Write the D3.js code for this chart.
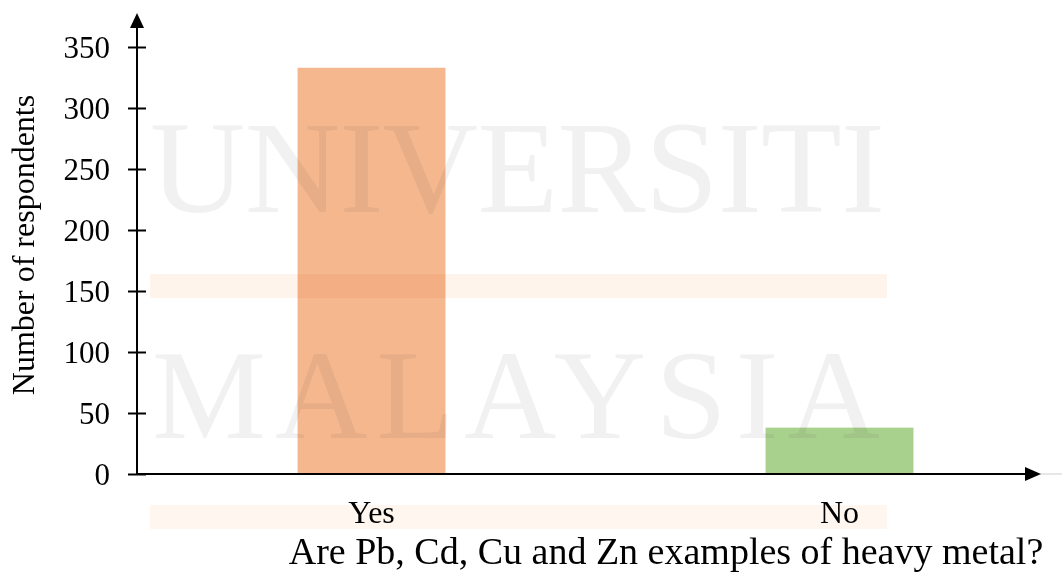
<!DOCTYPE html>
<html>
<head>
<meta charset="utf-8">
<script src="https://cdn.jsdelivr.net/npm/d3@7"></script>
<style>
  html, body { margin: 0; padding: 0; background: #fff; }
  svg { display: block; font-family: "Liberation Serif", "Times New Roman", serif; }
</style>
</head>
<body>
<svg id="chart" width="1062" height="573"></svg>
<script>
// Survey answers
const categories = ["Yes", "No"];
const respondents = [333, 38];
const barColors = ["#f4b78e", "#a9d18e"];
const yTicks = [0, 50, 100, 150, 200, 250, 300, 350];
const yTitle = "Number of respondents";
const xTitle = "Are Pb, Cd, Cu and Zn examples of heavy metal?";

const svg = d3.select("#chart");

const x = d3.scaleBand()
  .domain(categories)
  .range([137.5, 1073.5])
  .paddingInner(0.684)
  .paddingOuter(0.342);

const y = d3.scaleLinear()
  .domain([0, 350])
  .range([474, 47]);

const x0 = 137;

// Bars
svg.append("g")
  .selectAll("rect")
  .data(categories)
  .join("rect")
  .attr("x", d => x(d))
  .attr("width", x.bandwidth())
  .attr("y", (d, i) => y(respondents[i]))
  .attr("height", (d, i) => y(0) - y(respondents[i]))
  .attr("fill", (d, i) => barColors[i]);

// Faint background lettering and bands, multiplied over the bars
const wm = svg.append("g").style("mix-blend-mode", "multiply");
wm.append("rect").attr("x", 150).attr("y", 274).attr("width", 737).attr("height", 24)
  .attr("fill", "#fef4eb");
wm.append("rect").attr("x", 150).attr("y", 505).attr("width", 737).attr("height", 24)
  .attr("fill", "#fef6ef");
wm.append("text")
  .attr("x", 150).attr("y", 212)
  .attr("textLength", 735).attr("lengthAdjust", "spacing")
  .attr("font-size", 132)
  .attr("fill", "#f1f1f1")
  .text("UNIVERSITI");
wm.append("text")
  .attr("x", 152).attr("y", 438)
  .attr("textLength", 728).attr("lengthAdjust", "spacing")
  .attr("font-size", 128)
  .attr("fill", "#f1f1f1")
  .text("MALAYSIA");

// Y axis with ticks crossing the axis line
const yAxis = svg.append("g")
  .attr("transform", `translate(${x0},0)`)
  .call(d3.axisLeft(y).tickValues(yTicks).tickSize(9).tickPadding(18));
yAxis.select(".domain").remove();
yAxis.selectAll(".tick line")
  .attr("x1", -9).attr("x2", 9)
  .attr("stroke", "#000").attr("stroke-width", 2);
yAxis.selectAll(".tick text")
  .attr("font-family", "Liberation Serif, Times New Roman, serif")
  .attr("font-size", 31)
  .attr("fill", "#000")
  .attr("dy", "0.35em");

// Axis lines with arrowheads
svg.append("line")
  .attr("x1", x0).attr("x2", x0).attr("y1", y(0) + 1).attr("y2", 24)
  .attr("stroke", "#000").attr("stroke-width", 2);
svg.append("path")
  .attr("d", `M${x0},13 L${x0 - 7},28 L${x0 + 7},28 Z`)
  .attr("fill", "#000");

svg.append("line")
  .attr("x1", 1040).attr("x2", 1062).attr("y1", y(0)).attr("y2", y(0))
  .attr("stroke", "#e6e6e6").attr("stroke-width", 2);
svg.append("line")
  .attr("x1", x0 - 1).attr("x2", 1030).attr("y1", y(0)).attr("y2", y(0))
  .attr("stroke", "#000").attr("stroke-width", 2);
svg.append("path")
  .attr("d", `M1041,${y(0)} L1025,${y(0) - 7} L1025,${y(0) + 7} Z`)
  .attr("fill", "#000");

// Category labels
svg.append("g")
  .selectAll("text")
  .data(categories)
  .join("text")
  .attr("x", d => x(d) + x.bandwidth() / 2)
  .attr("y", 523)
  .attr("text-anchor", "middle")
  .attr("font-size", 32)
  .attr("fill", "#000")
  .text(d => d);

// Axis titles
svg.append("text")
  .attr("x", 666).attr("y", 564)
  .attr("text-anchor", "middle")
  .attr("font-size", 38)
  .attr("fill", "#000")
  .text(xTitle);

svg.append("text")
  .attr("transform", "translate(34,245) rotate(-90)")
  .attr("text-anchor", "middle")
  .attr("font-size", 32)
  .attr("fill", "#000")
  .text(yTitle);
</script>
</body>
</html>
